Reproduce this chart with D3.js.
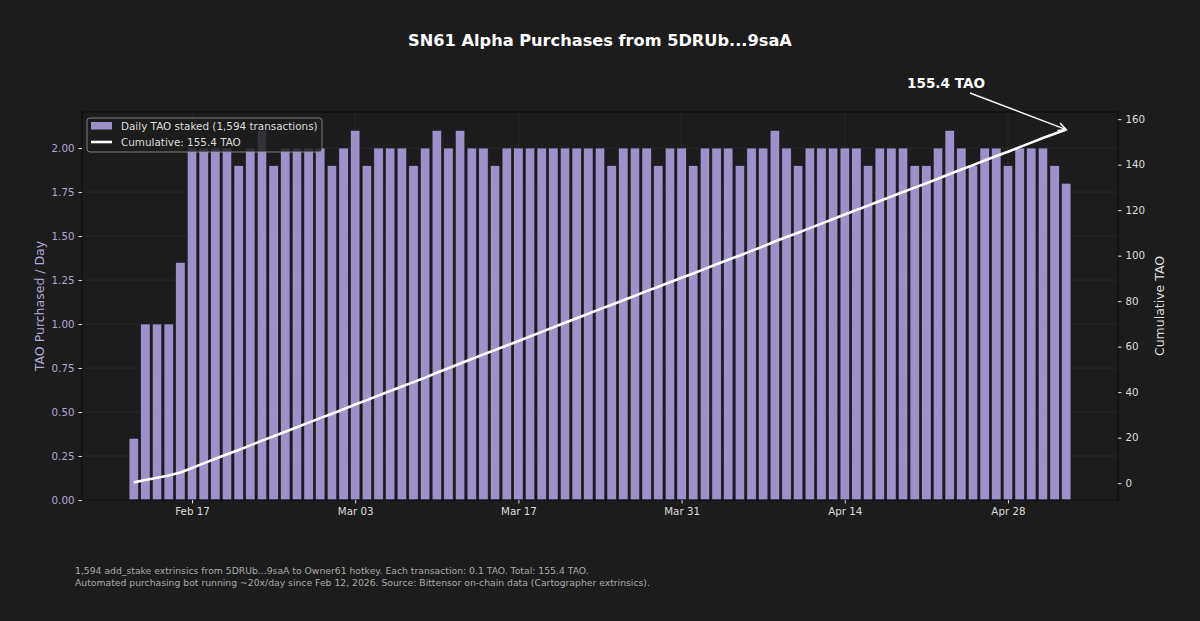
<!DOCTYPE html>
<html>
<head>
<meta charset="utf-8">
<script src="https://cdn.jsdelivr.net/npm/d3@7"></script>
<style>
  html, body { margin: 0; padding: 0; background: #1c1c1c; }
  svg { display: block; }
  text { font-family: "DejaVu Sans", sans-serif; }
</style>
</head>
<body>
<svg id="chart" width="1200" height="621"></svg>
<script>
// ---------- DATA ----------
const startDay = "2026-02-12";
const endDay = "2026-05-03";
// Daily TAO staked, one value per day from Feb 12 to May 3, 2026
const dailyTao = [
  0.35, 1.0, 1.0, 1.0, 1.35,                 // Feb 12-16
  2.0, 2.0, 2.0, 2.0, 1.9, 2.0, 2.1, 1.9, 2.0, 2.0, 2.0, 2.0, // Feb 17-28
  1.9, 2.0, 2.1, 1.9, 2.0, 2.0, 2.0, 1.9, 2.0, 2.1, 2.0, 2.1, 2.0, 2.0, 1.9, 2.0, // Mar 1-16
  2.0, 2.0, 2.0, 2.0, 2.0, 2.0, 2.0, 2.0, 1.9, 2.0, 2.0, 2.0, 1.9, 2.0, 2.0,      // Mar 17-31
  1.9, 2.0, 2.0, 2.0, 1.9, 2.0, 2.0, 2.1, 2.0, 1.9, 2.0, 2.0, 2.0, 2.0, 2.0,      // Apr 1-15
  1.9, 2.0, 2.0, 2.0, 1.9, 1.9, 2.0, 2.1, 2.0, 1.9, 2.0, 2.0, 1.9, 2.0, 2.0,      // Apr 16-30
  2.0, 1.9, 1.8                                                                   // May 1-3
];
const xTickDays = ["2026-02-17", "2026-03-03", "2026-03-17", "2026-03-31", "2026-04-14", "2026-04-28"];
const leftTicks = [0, 0.25, 0.5, 0.75, 1.0, 1.25, 1.5, 1.75, 2.0];
const rightTicks = [0, 20, 40, 60, 80, 100, 120, 140, 160];
const titleText = "SN61 Alpha Purchases from 5DRUb...9saA";
const leftLabel = "TAO Purchased / Day";
const rightLabel = "Cumulative TAO";
const legendLabels = ["Daily TAO staked (1,594 transactions)", "Cumulative: 155.4 TAO"];
const annotationText = "155.4 TAO";
const footerLines = [
  "1,594 add_stake extrinsics from 5DRUb...9saA to Owner61 hotkey. Each transaction: 0.1 TAO. Total: 155.4 TAO.",
  "Automated purchasing bot running ~20x/day since Feb 12, 2026. Source: Bittensor on-chain data (Cartographer extrinsics)."
];

// ---------- SETUP ----------
const parse = d3.utcParse("%Y-%m-%d");
const days = d3.utcDay.range(parse(startDay), d3.utcDay.offset(parse(endDay), 1));
const data = days.map((d, i) => ({ date: d, value: dailyTao[i] }));
const cum = d3.cumsum(dailyTao);
data.forEach((d, i) => d.cum = cum[i]);

const svg = d3.select("#chart");
const W = 1200, H = 621;
const plot = { left: 82, right: 1118, top: 112, bottom: 500 };

const barW = 0.8; // days
const first = days[0], last = days[days.length - 1];
const spanDays = (last - first) / 864e5 + barW;
const pad = spanDays * 0.05 + barW / 2;
const x = d3.scaleUtc()
  .domain([new Date(+first - pad * 864e5), new Date(+last + pad * 864e5)])
  .range([plot.left, plot.right]);
const dayPx = x(d3.utcDay.offset(first, 1)) - x(first);

const yL = d3.scaleLinear().domain([0, d3.max(dailyTao) * 1.05]).range([plot.bottom, plot.top]);
const cMin = d3.min(cum), cMax = d3.max(cum), cPad = (cMax - cMin) * 0.05;
const yR = d3.scaleLinear().domain([cMin - cPad, cMax + cPad]).range([plot.bottom, plot.top]);

const purple = "#b4a7d6";
const textGray = "#dcdcdc";

svg.append("rect").attr("width", W).attr("height", H).attr("fill", "#1c1c1c");

// grid
const grid = svg.append("g").attr("stroke", "#ffffff").attr("stroke-opacity", 0.07).attr("stroke-width", 0.8);
grid.selectAll("line.h").data(leftTicks).join("line")
  .attr("x1", plot.left).attr("x2", plot.right)
  .attr("y1", d => yL(d)).attr("y2", d => yL(d));
grid.selectAll("line.v").data(xTickDays.map(parse)).join("line")
  .attr("x1", d => x(d)).attr("x2", d => x(d))
  .attr("y1", plot.top).attr("y2", plot.bottom);

// bars
svg.append("g").selectAll("rect").data(data).join("rect")
  .attr("x", d => x(d.date) - dayPx * barW / 2)
  .attr("width", dayPx * barW)
  .attr("y", d => yL(d.value))
  .attr("height", d => yL(0) - yL(d.value))
  .attr("fill", "#9e90c8")
  .attr("stroke", "#17131f")
  .attr("stroke-width", 0.5);

// cumulative line
svg.append("path").datum(data)
  .attr("fill", "none")
  .attr("stroke", "#ffffff")
  .attr("stroke-width", 2.6)
  .attr("stroke-linejoin", "round")
  .attr("d", d3.line().x(d => x(d.date)).y(d => yR(d.cum)));

// frame
svg.append("rect")
  .attr("x", plot.left).attr("y", plot.top)
  .attr("width", plot.right - plot.left).attr("height", plot.bottom - plot.top)
  .attr("fill", "none").attr("stroke", "#0a0a0a").attr("stroke-width", 1);

// axes
const xAxis = d3.axisBottom(x).tickValues(xTickDays.map(parse))
  .tickFormat(d3.utcFormat("%b %d")).tickSize(3.5).tickPadding(4);
const gx = svg.append("g").attr("transform", `translate(0,${plot.bottom})`).call(xAxis);
gx.select(".domain").remove();
gx.selectAll("line").attr("stroke", textGray);
gx.selectAll("text").attr("fill", textGray).attr("font-size", "10.3px");

const leftAxis = d3.axisLeft(yL).tickValues(leftTicks).tickFormat(d3.format(".2f")).tickSize(3.5).tickPadding(4);
const gl = svg.append("g").attr("transform", `translate(${plot.left},0)`).call(leftAxis);
gl.select(".domain").remove();
gl.selectAll("line").attr("stroke", textGray);
gl.selectAll("text").attr("fill", purple).attr("font-size", "10.3px");

const rightAxis = d3.axisRight(yR).tickValues(rightTicks).tickFormat(d3.format("d")).tickSize(3.5).tickPadding(4);
const gr = svg.append("g").attr("transform", `translate(${plot.right},0)`).call(rightAxis);
gr.select(".domain").remove();
gr.selectAll("line").attr("stroke", textGray);
gr.selectAll("text").attr("fill", textGray).attr("font-size", "10.3px");

// axis labels
svg.append("text")
  .attr("transform", `translate(44,${(plot.top + plot.bottom) / 2}) rotate(-90)`)
  .attr("text-anchor", "middle").attr("fill", purple).attr("font-size", "12.5px")
  .text(leftLabel);
svg.append("text")
  .attr("transform", `translate(1164,${(plot.top + plot.bottom) / 2}) rotate(-90)`)
  .attr("text-anchor", "middle").attr("fill", textGray).attr("font-size", "12.5px")
  .text(rightLabel);

// title
svg.append("text").attr("x", 600).attr("y", 46).attr("text-anchor", "middle")
  .attr("fill", "#ffffff").attr("font-size", "16.2px").attr("font-weight", "bold")
  .text(titleText);

// legend
const lg = svg.append("g");
lg.append("rect").attr("x", 87).attr("y", 118).attr("width", 235).attr("height", 34).attr("rx", 3)
  .attr("fill", "#1c1c1c").attr("fill-opacity", 0.82)
  .attr("stroke", "#9a9a9a").attr("stroke-width", 0.8);
lg.append("rect").attr("x", 91).attr("y", 122).attr("width", 21).attr("height", 7.5)
  .attr("fill", "#9e90c8");
lg.append("line").attr("x1", 91).attr("x2", 112).attr("y1", 142).attr("y2", 142)
  .attr("stroke", "#ffffff").attr("stroke-width", 2.6);
lg.selectAll("text").data(legendLabels).join("text")
  .attr("x", 121).attr("y", (d, i) => 130 + i * 16)
  .attr("fill", textGray).attr("font-size", "10.4px")
  .text(d => d);

// annotation with arrow
const lastPt = data[data.length - 1];
const tipX = x(lastPt.date), tipY = yR(lastPt.cum);
svg.append("text").attr("x", 946).attr("y", 88).attr("text-anchor", "middle")
  .attr("fill", "#ffffff").attr("font-size", "13.6px").attr("font-weight", "bold")
  .text(annotationText);
const sx = 970, sy = 93;
const ang = Math.atan2(tipY - sy, tipX - sx);
const ah = 9, aw = 0.45;
svg.append("line").attr("x1", sx).attr("y1", sy).attr("x2", tipX).attr("y2", tipY)
  .attr("stroke", "#ffffff").attr("stroke-width", 1.5);
svg.append("path")
  .attr("d", `M${tipX - ah * Math.cos(ang - aw)},${tipY - ah * Math.sin(ang - aw)} L${tipX},${tipY} L${tipX - ah * Math.cos(ang + aw)},${tipY - ah * Math.sin(ang + aw)}`)
  .attr("fill", "none").attr("stroke", "#ffffff").attr("stroke-width", 1.5);

// footer
svg.append("g").selectAll("text").data(footerLines).join("text")
  .attr("x", 75).attr("y", (d, i) => 574 + i * 11.8)
  .attr("fill", "#aaaaaa").attr("font-size", "9.25px")
  .text(d => d);
</script>
</body>
</html>
